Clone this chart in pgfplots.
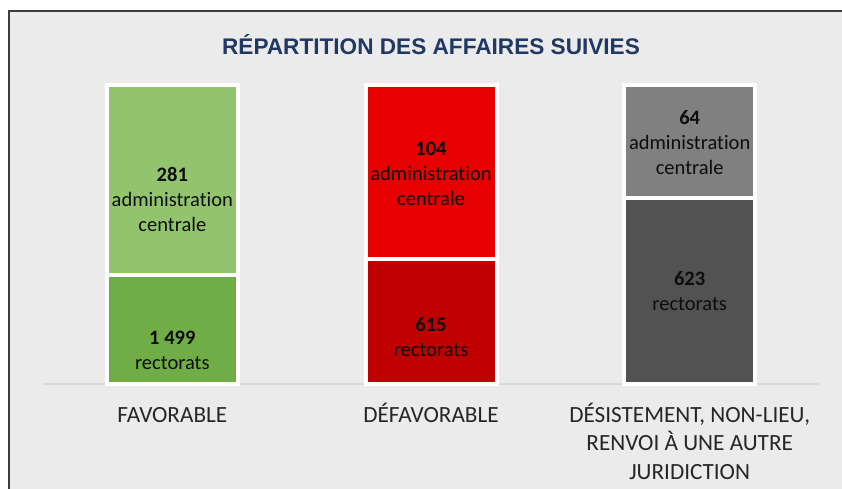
\documentclass[border=0pt]{standalone}
\usepackage{pgfplots}
\pgfplotsset{compat=1.18}
\usepackage{fontspec}
\setmainfont{Carlito}[Ligatures={NoCommon}]
\newfontfamily\titlefont{Liberation Sans}

\definecolor{bgframe}{RGB}{235,235,235}
\definecolor{framecol}{RGB}{60,60,60}
\definecolor{titleblue}{RGB}{31,56,100}
\definecolor{favlight}{RGB}{146,196,110}
\definecolor{favdark}{RGB}{112,173,71}
\definecolor{deflight}{RGB}{230,0,0}
\definecolor{defdark}{RGB}{192,0,0}
\definecolor{deslight}{RGB}{128,128,128}
\definecolor{desdark}{RGB}{82,82,82}
\definecolor{cattext}{RGB}{38,38,38}
\definecolor{labtext}{RGB}{13,13,13}
\definecolor{baseline}{RGB}{217,217,217}

% first line strut so that accented and plain labels sit on the same baseline
\newcommand{\fl}{\rule{0pt}{0.9em}}
\newcommand{\seglab}[2]{\textbf{#1}\\#2}

\begin{document}
\begin{tikzpicture}[x=1pt,y=1pt]
\path[use as bounding box] (0,0) rectangle (842,-488);
\clip (0,0) rectangle (842,-488);
\fill[white] (0,0) rectangle (842,-488);
\filldraw[fill=bgframe, draw=framecol, line width=2.4pt] (9.2,-11.2) rectangle (900,-600);
\node[font=\titlefont\bfseries\fontsize{22.6}{26}\selectfont, text=titleblue, anchor=base]
  at (431,-54.3) {RÉPARTITION DES AFFAIRES SUIVIES};

\begin{axis}[
  at={(43pt,-384pt)}, anchor=south west,
  scale only axis, width=776pt, height=298.7pt,
  xmin=-0.5, xmax=2.5, ymin=0, ymax=100,
  axis x line=bottom, hide y axis,
  x axis line style={-, draw=baseline, line width=1.3pt},
  xtick={0,1,2}, major tick length=0pt,
  xticklabels={\fl FAVORABLE, \fl DÉFAVORABLE, {\fl DÉSISTEMENT, NON-LIEU,\\RENVOI À UNE AUTRE\\JURIDICTION}},
  xticklabel style={font=\fontsize{23.2}{28.5}\selectfont, text=cattext, align=center,
    anchor=north, inner sep=0pt, yshift=-17pt},
  ybar, bar width=131pt, bar shift=0pt,
  every axis plot/.append style={draw=white, line width=4pt},
  clip=false,
]
% full column (upper segment shows: administration centrale)
\addplot[fill=favlight] coordinates {(0,100)};
\addplot[fill=deflight] coordinates {(1,100)};
\addplot[fill=deslight] coordinates {(2,100)};
% lower segment (rectorats), height as drawn in the chart
\addplot[fill=favdark] coordinates {(0,36.5)};
\addplot[fill=defdark] coordinates {(1,41.8)};
\addplot[fill=desdark] coordinates {(2,62.4)};

\begin{scope}[every node/.style={align=center, text=labtext, font=\fontsize{20.5}{25}\selectfont}]
\node at (axis cs:0,61.8) {\seglab{281}{administration\\centrale}};
\node at (axis cs:0,11.4) {\seglab{1 499}{rectorats}};
\node at (axis cs:1,70.5) {\seglab{104}{administration\\centrale}};
\node at (axis cs:1,15.7) {\seglab{615}{rectorats}};
\node at (axis cs:2,80.7) {\seglab{64}{administration\\centrale}};
\node at (axis cs:2,31.1) {\seglab{623}{rectorats}};
\end{scope}
\end{axis}
\end{tikzpicture}
\end{document}
